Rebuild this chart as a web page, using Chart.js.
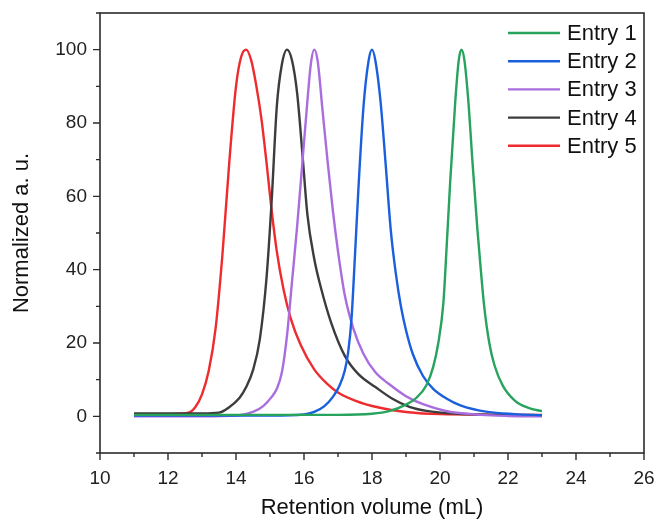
<!DOCTYPE html>
<html>
<head>
<meta charset="utf-8">
<script src="https://cdn.jsdelivr.net/npm/chart.js@4.4.1/dist/chart.umd.min.js"></script>
<style>
  html, body { margin: 0; padding: 0; background: #fff; }
  #wrap { width: 656px; height: 520px; }
</style>
</head>
<body>
<div id="wrap"><canvas id="chart" width="656" height="520"></canvas></div>
<script>
// series labels and colours
const entryLabels = ["Entry 1", "Entry 2", "Entry 3", "Entry 4", "Entry 5"];
const entryColors = ["#27a35e", "#1a5fdc", "#a96ddf", "#3c3c3c", "#ee2b2e"];

// Entry 1 (green)
const entry1X = [11, 14, 17, 18, 18.5, 19, 19.3, 19.6, 19.8, 19.95, 20.1, 20.2, 20.3, 20.45, 20.55, 20.63, 20.72, 20.85, 20.95, 21.1, 21.2, 21.3, 21.45, 21.6, 21.85, 22.2, 22.6, 23];
const entry1Y = [0.4, 0.4, 0.4, 0.7, 1.4, 3.2, 5, 8.5, 13.5, 20, 31, 47, 64, 86, 97, 100, 97, 84, 70, 51, 40, 30, 20, 14, 8.3, 4.3, 2.3, 1.4];

// Entry 2 (blue)
const entry2X = [11, 13, 15, 16, 16.3, 16.6, 16.85, 17.05, 17.2, 17.3, 17.4, 17.5, 17.6, 17.75, 17.9, 18.0, 18.1, 18.25, 18.4, 18.55, 18.7, 18.85, 19.0, 19.2, 19.5, 19.8, 20.2, 20.6, 21.4, 22.2, 23];
const entry2Y = [0.2, 0.2, 0.2, 0.5, 1.2, 2.8, 5.3, 8.5, 12.5, 17.5, 27, 44, 62, 84.5, 97, 100, 97, 86, 69, 51, 39, 30, 23.5, 17, 11, 7.5, 4.8, 3, 1.2, 0.6, 0.3];

// Entry 3 (purple)
const entry3X = [11, 12, 13, 14, 14.5, 14.8, 15.05, 15.2, 15.35, 15.5, 15.65, 15.8, 15.95, 16.1, 16.2, 16.3, 16.4, 16.55, 16.7, 16.85, 17.0, 17.2, 17.45, 17.75, 18.1, 18.5, 19.0, 19.5, 20.2, 21.2, 22, 23];
const entry3Y = [0, 0, 0, 0.2, 1.2, 2.8, 5.3, 7.5, 12, 22, 37, 52, 69, 86, 96, 100, 97, 83, 69, 56, 45, 33, 24, 17, 12, 8.8, 5.5, 3.3, 1.4, 0.4, 0.1, 0];

// Entry 4 (black)
const entry4X = [11, 12, 13, 13.5, 13.8, 14.1, 14.3, 14.5, 14.7, 14.9, 15.05, 15.2, 15.35, 15.5, 15.65, 15.8, 15.95, 16.1, 16.3, 16.5, 16.8, 17.2, 17.6, 18.1, 18.6, 19.1, 19.6, 20.5, 21.5, 23];
const entry4Y = [0.8, 0.8, 0.8, 1.0, 2.5, 5, 8, 12.6, 21, 38, 59, 84.5, 96, 100, 97, 88, 72, 55, 43, 35, 25.5, 16.5, 11.5, 8, 4.8, 2.6, 1.5, 0.7, 0.4, 0.3];

// Entry 5 (red)
const entry5X = [11, 12, 12.6, 12.8, 13.0, 13.2, 13.4, 13.6, 13.8, 14.0, 14.15, 14.3, 14.45, 14.6, 14.75, 14.9, 15.05, 15.2, 15.4, 15.6, 15.9, 16.3, 16.7, 17.0, 17.5, 18.2, 19, 20, 23];
const entry5Y = [0.6, 0.6, 1, 2.5, 6, 12.5, 24, 44, 69, 90, 98, 100, 97, 90, 81, 69, 56, 45, 34.5, 27, 19.5, 12.8, 8.7, 6.5, 4.3, 2.4, 1.2, 0.6, 0.4];

const seriesX = [entry1X, entry2X, entry3X, entry4X, entry5X];
const seriesY = [entry1Y, entry2Y, entry3Y, entry4Y, entry5Y];

// axis ticks
const xMin = 10, xMax = 26, xStep = 1;
const yMin = -10, yMax = 110, yStep = 10;
const xLabelTicks = [10, 12, 14, 16, 18, 20, 22, 24, 26];
const yLabelTicks = [0, 20, 40, 60, 80, 100];

const FONT = "'Liberation Sans', Arial, sans-serif";
const AXIS_COLOR = "#2b2b2b";

const datasets = entryLabels.map((label, i) => ({
  label,
  data: seriesX[i].map((x, j) => ({ x, y: seriesY[i][j] })),
  borderColor: entryColors[i],
  borderWidth: 2.4,
  pointRadius: 0,
  fill: false,
  cubicInterpolationMode: "monotone",
}));

// frame, minor/major ticks and legend
const framePlugin = {
  id: "frame",
  afterDraw(chart) {
    const { ctx, chartArea: a, scales } = chart;
    ctx.save();
    ctx.strokeStyle = AXIS_COLOR;
    ctx.lineWidth = 1.6;
    ctx.strokeRect(a.left, a.top, a.right - a.left, a.bottom - a.top);

    ctx.lineWidth = 1.4;
    ctx.beginPath();
    scales.x.ticks.forEach(t => {
      const px = scales.x.getPixelForValue(t.value);
      const len = xLabelTicks.includes(t.value) ? 7 : 4;
      ctx.moveTo(px, a.bottom);
      ctx.lineTo(px, a.bottom + len);
    });
    scales.y.ticks.forEach(t => {
      const py = scales.y.getPixelForValue(t.value);
      const len = t.value % 20 === 0 ? 7 : 4;
      ctx.moveTo(a.left, py);
      ctx.lineTo(a.left - len, py);
    });
    ctx.stroke();

    // legend, top right
    ctx.font = "22px " + FONT;
    ctx.textBaseline = "middle";
    ctx.fillStyle = "#111";
    entryLabels.forEach((label, i) => {
      const y = a.top + 20 + i * 28.2;
      ctx.strokeStyle = entryColors[i];
      ctx.lineWidth = 2.4;
      ctx.beginPath();
      ctx.moveTo(a.right - 136, y);
      ctx.lineTo(a.right - 84, y);
      ctx.stroke();
      ctx.fillText(label, a.right - 77, y + 1);
    });
    ctx.restore();
  }
};

new Chart(document.getElementById("chart"), {
  type: "line",
  data: { datasets },
  options: {
    responsive: false,
    animation: false,
    layout: { padding: { top: 13, right: 12, left: 0, bottom: 0 } },
    plugins: {
      legend: { display: false },
      tooltip: { enabled: false },
    },
    scales: {
      x: {
        type: "linear",
        min: xMin,
        max: xMax,
        grid: { display: false, drawTicks: false },
        border: { display: false },
        afterFit: s => { s.height = 67; s.paddingLeft = 0; s.paddingRight = 0; },
        ticks: {
          stepSize: xStep,
          autoSkip: false,
          maxRotation: 0,
          padding: 14,
          color: "#222",
          font: { family: FONT, size: 19 },
          callback: v => (xLabelTicks.includes(v) ? String(v) : ""),
        },
        title: {
          display: true,
          text: "Retention volume (mL)",
          color: "#111",
          font: { family: FONT, size: 22, lineHeight: 1.1 },
          padding: { top: 0, bottom: 0 },
        },
      },
      y: {
        min: yMin,
        max: yMax,
        grid: { display: false, drawTicks: false },
        border: { display: false },
        afterFit: s => { s.width = 100; s.paddingTop = 0; s.paddingBottom = 0; },
        ticks: {
          stepSize: yStep,
          autoSkip: false,
          padding: 13,
          color: "#222",
          font: { family: FONT, size: 19 },
          callback: v => (yLabelTicks.includes(v) ? String(v) : ""),
        },
        title: {
          display: true,
          text: "Normalized a. u.",
          color: "#111",
          font: { family: FONT, size: 22, lineHeight: 1.2 },
          padding: { top: 9, bottom: 0 },
        },
      },
    },
  },
  plugins: [framePlugin],
});
</script>
</body>
</html>
